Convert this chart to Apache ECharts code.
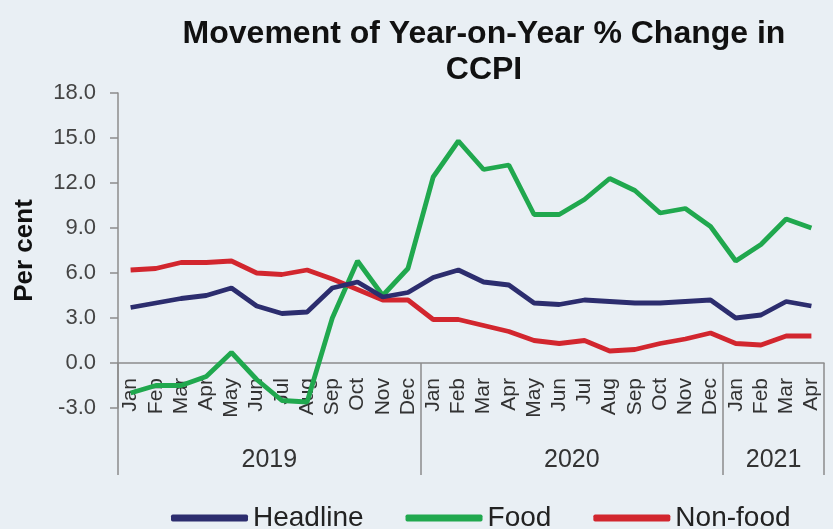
<!DOCTYPE html>
<html>
<head>
<meta charset="utf-8">
<script src="https://cdn.jsdelivr.net/npm/echarts@6/dist/echarts.min.js"></script>
<style>
html,body{margin:0;padding:0;background:#e9eff4;}
#chart{width:833px;height:529px;}
</style>
</head>
<body>
<div id="chart"></div>
<script>
// ---- Data ----
var months = ['Jan','Feb','Mar','Apr','May','Jun','Jul','Aug','Sep','Oct','Nov','Dec',
              'Jan','Feb','Mar','Apr','May','Jun','Jul','Aug','Sep','Oct','Nov','Dec',
              'Jan','Feb','Mar','Apr'];
var years = ['2019','2020','2021'];
var monthsPerYear = [12, 12, 4];
var seriesNames = ['Headline','Food','Non-food'];
var headline = [3.7,4.0,4.3,4.5,5.0,3.8,3.3,3.4,5.0,5.4,4.4,4.7,
                5.7,6.2,5.4,5.2,4.0,3.9,4.2,4.1,4.0,4.0,4.1,4.2,
                3.0,3.2,4.1,3.8];
var food = [-2.0,-1.5,-1.5,-0.9,0.7,-1.1,-2.5,-2.6,3.0,6.8,4.5,6.3,
            12.4,14.8,12.9,13.2,9.9,9.9,10.9,12.3,11.5,10.0,10.3,9.1,
            6.8,7.9,9.6,9.0];
var nonFood = [6.2,6.3,6.7,6.7,6.8,6.0,5.9,6.2,5.6,4.9,4.2,4.2,
               2.9,2.9,2.5,2.1,1.5,1.3,1.5,0.8,0.9,1.3,1.6,2.0,
               1.3,1.2,1.8,1.8];
var yTicks = {min: -3, max: 18, step: 3};

// derived year boundaries / centres on a 0..N value scale
var bounds = [0], centres = [], acc = 0;
monthsPerYear.forEach(function (n) { centres.push(acc + n / 2); acc += n; bounds.push(acc); });

var chart = echarts.init(document.getElementById('chart'));
var axisGray = '#8c8c8c';
chart.setOption({
  backgroundColor: '#e9eff4',
  animation: false,
  textStyle: {fontFamily: 'Liberation Sans, Arial, sans-serif'},
  title: {
    text: 'Movement of Year-on-Year % Change in\nCCPI',
    left: 479, top: 11, textAlign: 'center',
    textStyle: {fontSize: 32, fontWeight: 'bold', color: '#111', lineHeight: 36,
                fontFamily: 'Liberation Sans, Arial, sans-serif'}
  },
  legend: {
    data: seriesNames,
    left: 166, top: 499,
    icon: 'roundRect', itemWidth: 77, itemHeight: 7, itemGap: 42,
    textStyle: {fontSize: 28, color: '#222'}
  },
  grid: {left: 118, right: 9, top: 93, bottom: 121, containLabel: false},
  xAxis: [{
    type: 'category', data: months, boundaryGap: true,
    axisLine: {onZero: true, lineStyle: {color: axisGray, width: 1.5}},
    axisTick: {show: false},
    axisLabel: {rotate: 90, interval: 0, fontSize: 21, color: '#333', margin: -30}
  }, {
    type: 'value', min: 0, max: acc, position: 'bottom', offset: -45,
    axisLine: {show: false, onZero: false},
    splitLine: {show: false},
    axisTick: {show: true, customValues: bounds, length: 112, lineStyle: {color: axisGray, width: 1.5}},
    axisLabel: {customValues: centres, fontSize: 25, color: '#333', margin: 85,
      formatter: function (v) { var i = centres.indexOf(v); return i >= 0 ? years[i] : ''; }}
  }],
  yAxis: {
    type: 'value', min: yTicks.min, max: yTicks.max, interval: yTicks.step,
    name: 'Per cent', nameLocation: 'middle', nameRotate: 90, nameGap: 80,
    nameTextStyle: {fontSize: 26, fontWeight: 'bold', color: '#111'},
    axisLine: {show: true, lineStyle: {color: axisGray, width: 1.5}},
    axisTick: {show: true, length: 8, lineStyle: {color: axisGray, width: 1.5}},
    splitLine: {show: false},
    axisLabel: {fontSize: 22, color: '#444', margin: 22,
      formatter: function (v) { return v.toFixed(1); }}
  },
  series: [
    {name: seriesNames[0], type: 'line', data: headline, xAxisIndex: 0, showSymbol: false,
     lineStyle: {width: 4.8, color: '#2c2d6e'}, itemStyle: {color: '#2c2d6e'}, z: 4},
    {name: seriesNames[1], type: 'line', data: food, xAxisIndex: 0, showSymbol: false,
     lineStyle: {width: 4.8, color: '#20a84e'}, itemStyle: {color: '#20a84e'}, z: 3},
    {name: seriesNames[2], type: 'line', data: nonFood, xAxisIndex: 0, showSymbol: false,
     lineStyle: {width: 4.8, color: '#d2262e'}, itemStyle: {color: '#d2262e'}, z: 3}
  ]
});
</script>
</body>
</html>
